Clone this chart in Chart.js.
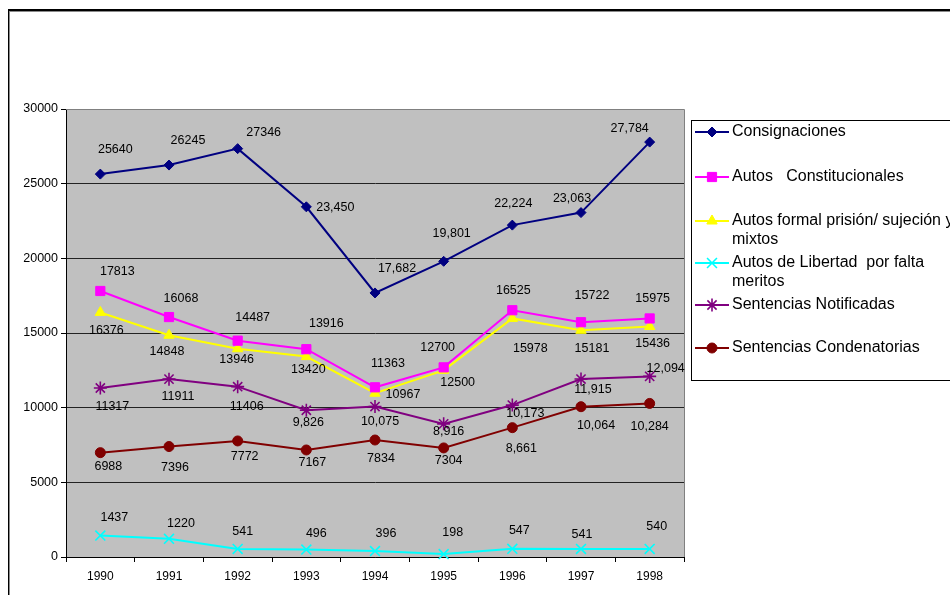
<!DOCTYPE html>
<html lang="es">
<head>
<meta charset="utf-8">
<title>Consignaciones y autos 1990-1998</title>
<style>
  html, body { margin: 0; padding: 0; background: #fff; }
  #marco { position: relative; width: 950px; height: 595px; }
</style>
</head>
<body>
<div id="marco"><canvas id="grafica" width="950" height="595"></canvas></div>

<script src="https://cdn.jsdelivr.net/npm/chart.js@4/dist/chart.umd.min.js"></script>
<script>
// ---------------- datos ----------------
const anios = ['1990', '1991', '1992', '1993', '1994', '1995', '1996', '1997', '1998'];

const consignaciones = [25640, 26245, 27346, 23450, 17682, 19801, 22224, 23063, 27784];
const autosConstitucionales = [17813, 16068, 14487, 13916, 11363, 12700, 16525, 15722, 15975];
const autosFormalPrision = [16376, 14848, 13946, 13420, 10967, 12500, 15978, 15181, 15436];
const autosLibertad = [1437, 1220, 541, 496, 396, 198, 547, 541, 540];
const sentenciasNotificadas = [11317, 11911, 11406, 9826, 10075, 8916, 10173, 11915, 12094];
const sentenciasCondenatorias = [6988, 7396, 7772, 7167, 7834, 7304, 8661, 10064, 10284];

// desde que punto las etiquetas usan separador de miles (-1 = nunca)
const comaDesde = [3, -1, -1, -1, 3, 6];

const ejeY = { min: 0, max: 30000, paso: 5000 };

// ---------------- posicion de cada etiqueta respecto a su punto ----------------
const despl = [
  [[15,-25],[19,-25],[26,-16],[29,1],[22,-24],[8,-28],[1,-22],[-9,-14],[-20,-14]],
  [[17,-19],[12,-19],[15,-23],[20,-26],[13,-24],[-6,-20],[1,-20],[11,-27],[3,-20]],
  [[6,18],[-2,16],[-1,11],[2,13],[28,1],[14,12],[18,30],[11,18],[3,17]],
  [[14,-18],[12,-15],[5,-17],[10,-16],[11,-18],[9,-21],[7,-18],[1,-14],[7,-22]],
  [[12,19],[9,17],[9,20],[2,12],[5,15],[5,8],[13,8],[12,10],[16,-8]],
  [[8,14],[6,21],[7,16],[6,13],[6,19],[5,13],[9,21],[15,19],[0,23]]
];

const leyendaY = [132, 177, 221, 263, 305, 348];
const FUENTE = '"Liberation Sans", Arial, sans-serif';

function formato(v, conComa) {
  return conComa ? v.toLocaleString('en-US') : String(v);
}

// fondo, marco exterior y area gris
const fondo = {
  id: 'fondo',
  beforeDraw(chart) {
    const ctx = chart.ctx, a = chart.chartArea;
    ctx.save();
    ctx.fillStyle = '#fff';
    ctx.fillRect(0, 0, chart.width, chart.height);
    // marco del documento
    ctx.fillStyle = '#000';
    ctx.fillRect(8, 9, 942, 2);
    ctx.fillRect(8, 9, 1, 586);
    ctx.fillStyle = '#8a8a8a';
    ctx.fillRect(9, 11, 941, 1);
    ctx.fillRect(9, 11, 1, 584);
    // area de trazado
    ctx.fillStyle = '#c0c0c0';
    ctx.fillRect(a.left, a.top, a.right - a.left, a.bottom - a.top);
    ctx.restore();
  },
  beforeDatasetsDraw(chart) {
    const ctx = chart.ctx, a = chart.chartArea;
    ctx.save();
    ctx.strokeStyle = '#808080';
    ctx.lineWidth = 1;
    ctx.beginPath();
    ctx.moveTo(a.left, a.top + 0.5);
    ctx.lineTo(a.right + 0.5, a.top + 0.5);
    ctx.lineTo(a.right + 0.5, a.bottom);
    ctx.stroke();
    ctx.restore();
  }
};

// etiquetas de valores
const etiquetas = {
  id: 'etiquetas',
  afterDatasetsDraw(chart) {
    const ctx = chart.ctx;
    ctx.save();
    ctx.font = '12.5px ' + FUENTE;
    ctx.fillStyle = '#000';
    ctx.textAlign = 'center';
    ctx.textBaseline = 'middle';
    chart.data.datasets.forEach((ds, i) => {
      const meta = chart.getDatasetMeta(i);
      meta.data.forEach((p, j) => {
        const txt = formato(ds.data[j], comaDesde[i] >= 0 && j >= comaDesde[i]);
        ctx.fillText(txt, p.x + despl[i][j][0], p.y + despl[i][j][1]);
      });
    });
    ctx.restore();
  }
};

// leyenda en caja a la derecha
const leyenda = {
  id: 'leyenda',
  afterDraw(chart) {
    const ctx = chart.ctx;
    ctx.save();
    ctx.strokeStyle = '#000';
    ctx.lineWidth = 1;
    ctx.strokeRect(691.5, 120.5, 300, 260);
    ctx.font = '16px ' + FUENTE;
    ctx.textBaseline = 'middle';
    chart.data.datasets.forEach((ds, i) => {
      const y = leyendaY[i];
      ctx.strokeStyle = ds.borderColor;
      ctx.lineWidth = 2;
      ctx.beginPath();
      ctx.moveTo(695, y);
      ctx.lineTo(729, y);
      ctx.stroke();
      ctx.fillStyle = ds.pointBackgroundColor;
      ctx.strokeStyle = ds.pointBorderColor;
      ctx.lineWidth = ds.pointBorderWidth;
      Chart.helpers.drawPoint(ctx, {
        pointStyle: ds.pointStyle, radius: ds.pointRadius,
        rotation: 0, borderWidth: ds.pointBorderWidth
      }, 712, y);
      ctx.fillStyle = '#000';
      const lineas = Array.isArray(ds.label) ? ds.label : [ds.label];
      lineas.forEach((t, k) => ctx.fillText(t, 732, y + k * 19));
    });
    ctx.restore();
  }
};

function serie(nombre, datos, color, estilo, radio, relleno) {
  return {
    label: nombre,
    data: datos,
    borderColor: color,
    backgroundColor: color,
    borderWidth: 2,
    pointStyle: estilo,
    pointRadius: radio,
    pointHoverRadius: radio,
    pointBackgroundColor: relleno ? color : 'rgba(0,0,0,0)',
    pointBorderColor: color,
    pointBorderWidth: relleno ? 1 : 1.6,
    tension: 0,
    clip: false
  };
}

Chart.defaults.font.family = FUENTE;
Chart.defaults.color = '#000';

new Chart(document.getElementById('grafica'), {
  type: 'line',
  data: {
    labels: anios,
    datasets: [
      serie('Consignaciones', consignaciones, '#000080', 'rectRot', 5, true),
      serie('Autos   Constitucionales', autosConstitucionales, '#ff00ff', 'rect', 6.5, true),
      serie(['Autos formal prisión/ sujeción y', 'mixtos'], autosFormalPrision, '#ffff00', 'triangle', 6, true),
      serie(['Autos de Libertad  por falta', 'meritos'], autosLibertad, '#00ffff', 'crossRot', 7, false),
      serie('Sentencias Notificadas', sentenciasNotificadas, '#800080', 'star', 6.5, false),
      serie('Sentencias Condenatorias', sentenciasCondenatorias, '#800000', 'circle', 5, true)
    ]
  },
  options: {
    responsive: false,
    animation: false,
    devicePixelRatio: 1,
    layout: { padding: { top: 109, right: 266, left: 0, bottom: 0 } },
    plugins: { legend: { display: false }, tooltip: { enabled: false } },
    scales: {
      x: {
        offset: true,
        grid: { offset: true, drawOnChartArea: false, tickLength: 5, color: '#000' },
        border: { color: '#000', width: 1 },
        ticks: { font: { size: 12 }, color: '#000', padding: 7, maxRotation: 0 },
        afterFit(s) { s.height = 38; }
      },
      y: {
        min: ejeY.min,
        max: ejeY.max,
        ticks: {
          stepSize: ejeY.paso,
          font: { size: 12.5 },
          color: '#000',
          padding: 3,
          callback: v => String(v)
        },
        grid: {
          color: c => (c.tick && c.tick.value === ejeY.max) ? '#808080' : '#222',
          tickColor: '#000',
          tickLength: 5
        },
        border: { color: '#000', width: 1 },
        afterFit(s) { s.width = 66; }
      }
    }
  },
  plugins: [fondo, etiquetas, leyenda]
});
</script>
</body>
</html>
